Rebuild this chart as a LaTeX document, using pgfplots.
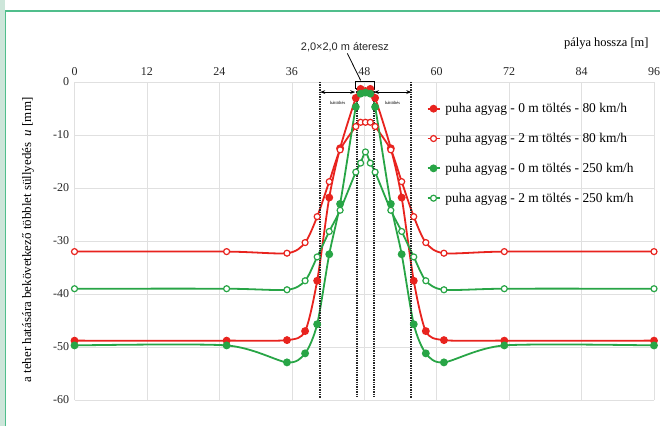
\documentclass[border=0pt]{standalone}
\usepackage{fontspec}
\setmainfont{Liberation Serif}
\newfontfamily\arial{Liberation Sans}
\usepackage{pgfplots}
\pgfplotsset{compat=1.18}
\usetikzlibrary{arrows.meta}
\definecolor{cred}{RGB}{232,35,30}
\definecolor{cgreen}{RGB}{40,165,70}
\definecolor{frameg}{RGB}{80,190,140}
\definecolor{stripg}{RGB}{205,230,218}

\begin{document}
\begin{tikzpicture}[x=1bp,y=1bp]
\path[use as bounding box] (0,0) rectangle (660,426);
\fill[stripg] (0,0) rectangle (4.5,426);
\draw[frameg, line width=1.5bp] (5.5,0) -- (5.5,415) -- (660,415);
\begin{axis}[at={(74.5bp,26bp)}, anchor=south west, scale only axis,
  width=579.5bp, height=318bp,
  xmin=0, xmax=96, ymin=-60, ymax=0, clip=false,
  xtick={0,12,...,96}, ytick={-60,-50,...,0},
  xticklabel pos=top,
  axis line style={draw=none}, major tick style={draw=none},
  grid=major, grid style={black!12, line width=0.6bp},
  tick label style={font=\fontsize{12}{13}\selectfont, text=black!85},
  /pgf/number format/assume math mode=true,
  xticklabel style={yshift=3bp},
  yticklabel style={xshift=-2bp},
  legend style={at={(axis cs:58.3,-3.6)}, anchor=north west, draw=none, fill=none,
    font=\fontsize{13.5}{15}\selectfont, row sep=15bp, inner sep=0pt,
    /tikz/every odd column/.append style={column sep=3bp}},
  legend cell align=left,
  legend image code/.code={\draw[mark repeat=2,mark phase=2] plot coordinates {(0bp,0bp) (6bp,0bp) (12bp,0bp)};},
]
% red filled: puha agyag - 0 m toltes - 80 km/h
\addplot[cred, line width=1.8bp, smooth, tension=0.45, mark=*, mark size=3bp, mark options={solid}] table {
x y
0 -48.8
25.2 -48.8
35.2 -48.7
38.2 -47.0
40.2 -37.5
42.2 -21.8
44.0 -12.5
46.6 -3.0
47.4 -1.3
48.2 -1.7
49.0 -1.3
49.8 -3.0
52.4 -12.5
54.2 -21.8
56.2 -37.5
58.2 -47.0
61.2 -48.7
71.2 -48.8
96 -48.8
};
\addlegendentry{puha agyag - 0 m töltés - 80 km/h}
% red open
\addplot[cred, line width=1.8bp, smooth, tension=0.45, mark=*, mark size=3bp, mark options={solid, fill=white, line width=1.2bp}] table {
x y
0 -32.0
25.2 -32.0
35.2 -32.3
38.2 -30.3
40.2 -25.4
42.2 -18.8
44.0 -12.8
46.6 -8.4
47.4 -7.6
48.2 -7.6
49.0 -7.6
49.8 -8.4
52.4 -12.8
54.2 -18.8
56.2 -25.4
58.2 -30.3
61.2 -32.3
71.2 -32.0
96 -32.0
};
\addlegendentry{puha agyag - 2 m töltés - 80 km/h}
% green filled
\addplot[cgreen, line width=1.8bp, smooth, tension=0.45, mark=*, mark size=3bp, mark options={solid}] table {
x y
0 -49.7
25.2 -49.7
35.2 -52.9
38.2 -51.2
40.2 -45.7
42.2 -32.5
44.0 -23.0
46.6 -4.7
47.4 -2.2
48.2 -2.0
49.0 -2.2
49.8 -4.7
52.4 -23.0
54.2 -32.5
56.2 -45.7
58.2 -51.2
61.2 -52.9
71.2 -49.7
96 -49.7
};
\addlegendentry{puha agyag - 0 m töltés - 250 km/h}
% green open
\addplot[cgreen, line width=1.8bp, smooth, tension=0.45, mark=*, mark size=3bp, mark options={solid, fill=white, line width=1.2bp}] table {
x y
0 -39.0
25.2 -39.0
35.2 -39.2
38.2 -37.5
40.2 -33.0
42.2 -28.2
44.0 -24.2
46.6 -17.0
47.4 -15.3
48.2 -13.2
49.0 -15.3
49.8 -17.0
52.4 -24.2
54.2 -28.2
56.2 -33.0
58.2 -37.5
61.2 -39.2
71.2 -39.0
96 -39.0
};
\addlegendentry{puha agyag - 2 m töltés - 250 km/h}
% dotted boundary lines
\addplot[forget plot, black!85, line width=1.7bp, dash pattern=on 1.3bp off 1.1bp] coordinates {(40.7,0) (40.7,-59.7)};
\addplot[forget plot, black!85, line width=1.7bp, dash pattern=on 1.3bp off 1.1bp] coordinates {(46.8,-1.3) (46.8,-59.7)};
\addplot[forget plot, black!85, line width=1.7bp, dash pattern=on 1.3bp off 1.1bp] coordinates {(49.6,-1.3) (49.6,-59.7)};
\addplot[forget plot, black!85, line width=1.7bp, dash pattern=on 1.3bp off 1.1bp] coordinates {(55.8,0) (55.8,-59.7)};
% culvert box
\draw[black, line width=0.8bp] (axis cs:46.5,0.1) rectangle (axis cs:49.6,-1.3);
% arrows
\draw[black, line width=0.9bp, {Stealth[length=5bp]}-{Stealth[length=5bp]}] (axis cs:40.7,-1.9) -- (axis cs:46.5,-1.9);
\draw[black, line width=0.9bp, {Stealth[length=5bp]}-{Stealth[length=5bp]}] (axis cs:49.6,-1.9) -- (axis cs:55.8,-1.9);
\node[font=\fontsize{4.5}{5}\selectfont] at (axis cs:43.6,-3.9) {háttöltés};
\node[font=\fontsize{4.5}{5}\selectfont] at (axis cs:52.7,-3.9) {háttöltés};
% annotation
\node[font=\arial\fontsize{11}{12}\selectfont, text=black!85] at (axis cs:44.8,6.6) {2,0×2,0 m áteresz};
\draw[black, line width=0.8bp] (axis cs:45.2,5.4) -- (axis cs:47.4,0.3);
\end{axis}
\node[anchor=east, font=\fontsize{12.5}{14}\selectfont] at (652,382) {pálya hossza [m]};
\node[rotate=90, font=\fontsize{13}{15}\selectfont] at (28,186) {a teher hatására bekövetkező többlet süllyedés\ \ \textit{u} [mm]};
\end{tikzpicture}
\end{document}
